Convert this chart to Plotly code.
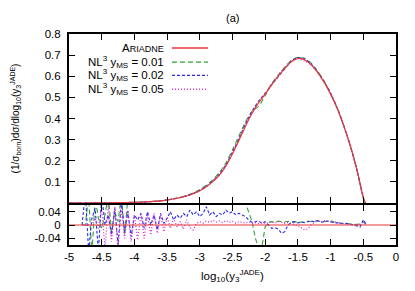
import numpy as np
import plotly.graph_objects as go
from plotly.subplots import make_subplots

# ---------------- data ----------------
# top panel: distribution vs log10(y3^JADE)
x_main = [-5.0, -4.9, -4.8, -4.7, -4.6, -4.5, -4.4, -4.3, -4.2, -4.1,
          -4.0, -3.9, -3.8, -3.7, -3.6, -3.5, -3.4, -3.3, -3.2, -3.1,
          -3.0, -2.9, -2.8, -2.7, -2.6, -2.5, -2.4, -2.3, -2.2, -2.1,
          -2.0, -1.9, -1.8, -1.7, -1.6, -1.5, -1.4, -1.3, -1.2, -1.1,
          -1.0, -0.9, -0.8, -0.7, -0.6, -0.5, -0.47]
ariadne = [0, 0, 0, 0, 0.0005, 0.0007, 0.001, 0.0013, 0.0017, 0.0023,
           0.003, 0.004, 0.0055, 0.0075, 0.010, 0.014, 0.019, 0.025, 0.033, 0.044,
           0.058, 0.077, 0.101, 0.132, 0.175, 0.233, 0.297, 0.365, 0.425, 0.475,
           0.515, 0.560, 0.600, 0.637, 0.668, 0.684, 0.678, 0.655, 0.618, 0.572,
           0.515, 0.448, 0.365, 0.272, 0.160, 0.025, 0.0]
nl3_001 = [0, 0, 0, 0, 0.0005, 0.0007, 0.001, 0.0014, 0.0018, 0.0025,
           0.0033, 0.0044, 0.006, 0.0082, 0.011, 0.0153, 0.0207, 0.0273, 0.036, 0.048,
           0.063, 0.084, 0.110, 0.144, 0.190, 0.252, 0.318, 0.385, 0.435, 0.458,
           0.508, 0.565, 0.606, 0.643, 0.675, 0.690, 0.685, 0.663, 0.625, 0.578,
           0.520, 0.452, 0.368, 0.273, 0.160, 0.026, 0.0]
nl3_002 = [0, 0, 0, 0, 0.0005, 0.0007, 0.001, 0.0013, 0.0018, 0.0024,
           0.0031, 0.0042, 0.0057, 0.0078, 0.0104, 0.0145, 0.0197, 0.026, 0.034, 0.0455,
           0.060, 0.080, 0.105, 0.137, 0.181, 0.242, 0.306, 0.376, 0.435, 0.482,
           0.520, 0.560, 0.598, 0.635, 0.672, 0.688, 0.682, 0.660, 0.622, 0.576,
           0.519, 0.451, 0.367, 0.272, 0.160, 0.025, 0.0]
nl3_005 = [0, 0, 0, 0, 0.0005, 0.0007, 0.001, 0.0013, 0.0017, 0.0023,
           0.003, 0.004, 0.0056, 0.0076, 0.0101, 0.0142, 0.0192, 0.0253, 0.0333, 0.0445,
           0.0586, 0.0777, 0.102, 0.133, 0.177, 0.236, 0.300, 0.369, 0.429, 0.479,
           0.518, 0.564, 0.605, 0.641, 0.671, 0.683, 0.673, 0.654, 0.620, 0.574,
           0.518, 0.450, 0.367, 0.272, 0.160, 0.025, 0.0]

# lower panel: relative deviation from Ariadne, x from -4.80 in steps of 0.05
ratio_x_start = -4.80
ratio_x_step = 0.05
ratio_001 = [0.00, 0.00, 0.09, -0.09, 0.08, 0.02, -0.01, 0.03, 0.09, -0.02,
             0.04, 0.01, 0.09, -0.03, 0.08, 0.07, 0.09, 0.09, 0.09, 0.09,
             0.09, 0.09, 0.09, 0.09, 0.09, 0.09, 0.09, 0.09, 0.09, 0.09,
             0.09, 0.09, 0.09, 0.09, 0.09, 0.09, 0.09, 0.09, 0.09, 0.09,
             0.09, 0.09, 0.09, 0.09, 0.09, 0.09, 0.09, 0.09, 0.09, 0.09,
             0.065, 0.04, 0.01, -0.04, -0.07, -0.065, -0.005, 0.008, 0.01, 0.008,
             0.012, 0.01, 0.009, 0.011, 0.008, 0.01, 0.007, 0.009, 0.008, 0.012,
             0.01, 0.013, 0.012, 0.009, 0.01, 0.011, 0.013, 0.01, 0.008, 0.006,
             0.004, 0.005, 0.003, 0.001, 0.002, 0.003, 0.01, 0.0]
ratio_002 = [0.0, 0.1, -0.08, 0.02, 0.05, -0.08, 0.09, 0.0, 0.03, -0.03,
             0.05, -0.06, 0.07, -0.02, 0.04, -0.035, 0.03, 0.015, 0.035, -0.01,
             0.04, 0.0, 0.03, -0.015, 0.035, 0.005, 0.02, 0.04, 0.015, 0.03,
             0.02, 0.035, 0.025, 0.045, 0.03, 0.04, 0.025, 0.035, 0.055, 0.03,
             0.04, 0.025, 0.035, 0.03, 0.045, 0.035, 0.04, 0.03, 0.035, 0.03,
             0.025, 0.015, 0.008, 0.01, 0.012, 0.005, 0.01, 0.0, -0.01, -0.008,
             -0.012, -0.025, -0.02, 0.0, 0.008, 0.01, 0.006, 0.009, 0.007, 0.01,
             0.012, 0.01, 0.013, 0.008, 0.01, 0.012, 0.01, 0.006, 0.007, 0.004,
             0.006, 0.003, 0.002, 0.0, -0.002, -0.006, 0.016, 0.0]
ratio_005 = [0.0, 0.0, 0.0, 0.0, 0.02, -0.01, 0.05, -0.07, 0.06, -0.05,
             0.055, -0.07, 0.05, -0.04, 0.045, -0.05, 0.03, -0.045, 0.035, -0.04,
             0.03, -0.03, 0.035, -0.025, 0.03, -0.02, 0.025, -0.01, 0.02, -0.005,
             0.01, -0.012, 0.015, -0.008, -0.015, 0.005, 0.01, 0.006, 0.012, 0.008,
             0.014, 0.009, 0.012, 0.007, 0.013, 0.008, 0.011, 0.006, 0.01, 0.008,
             0.006, 0.009, 0.005, 0.007, 0.004, 0.006, 0.005, 0.007, 0.009, 0.006,
             0.01, 0.008, 0.005, 0.007, 0.004, 0.002, -0.002, -0.008, -0.014, -0.012,
             0.0, 0.008, 0.012, 0.01, 0.013, 0.011, 0.01, 0.008, 0.007, 0.005,
             0.004, 0.002, 0.003, 0.001, 0.0, 0.002, 0.008, 0.0]
ratio_ref_x = [-5.0, 0.0]
ratio_ref = [0.0, 0.0]

x_ticks = [-5, -4.5, -4, -3.5, -3, -2.5, -2, -1.5, -1, -0.5, 0]
x_ticklabels = ["-5", "-4.5", "-4", "-3.5", "-3", "-2.5", "-2", "-1.5", "-1", "-0.5", "0"]
y_ticks = [0.1, 0.2, 0.3, 0.4, 0.5, 0.6, 0.7, 0.8]
y_ticklabels = ["0.1", "0.2", "0.3", "0.4", "0.5", "0.6", "0.7", "0.8"]
r_ticks = [-0.04, 0, 0.04]
r_ticklabels = ["-0.04", "0", "0.04"]

x_title = "log<sub>10</sub>(y<sub>3</sub><sup>JADE</sup>)"
y_title = "(1/σ<sub>born</sub>)dσ/dlog<sub>10</sub>(y<sub>3</sub><sup>JADE</sup>)"
panel_title = "(a)"
legend_labels = ["A<span style='font-size:9px'>RIADNE</span>",
                 "NL<sup>3</sup> y<sub>MS</sub> = 0.01",
                 "NL<sup>3</sup> y<sub>MS</sub> = 0.02",
                 "NL<sup>3</sup> y<sub>MS</sub> = 0.05"]

# ---------------- styles ----------------
RED = "#e53935"
GREEN = "#33a333"
BLUE = "#2a2ae8"
MAGENTA = "#d42ed4"
FONT = "Liberation Sans, Arial, sans-serif"

ratio_x = [round(ratio_x_start + ratio_x_step * i, 3) for i in range(len(ratio_001))]

fig = make_subplots(rows=2, cols=1, shared_xaxes=True, vertical_spacing=0,
                    row_heights=[0.802, 0.198])

styles = [(RED, "solid", 1.2), (GREEN, "5px,3px", 1.1), (BLUE, "3px,2px", 1.1), (MAGENTA, "1px,2px", 1.3)]
top_series = [ariadne, nl3_001, nl3_002, nl3_005]
for ys, (c, d, w) in zip(top_series[1:], styles[1:]):
    fig.add_trace(go.Scatter(x=x_main, y=ys, mode="lines", line=dict(color=c, dash=d, width=w, shape="spline", smoothing=0.6),
                             showlegend=False, hoverinfo="skip"), row=1, col=1)
fig.add_trace(go.Scatter(x=x_main, y=ariadne, mode="lines", line=dict(color=RED, width=1.2, shape="spline", smoothing=0.6),
                         showlegend=False, hoverinfo="skip"), row=1, col=1)

for ys, (c, d, w) in zip([ratio_001, ratio_002, ratio_005], styles[1:]):
    fig.add_trace(go.Scatter(x=ratio_x, y=ys, mode="lines", line=dict(color=c, dash=d, width=w),
                             showlegend=False, hoverinfo="skip"), row=2, col=1)
fig.add_trace(go.Scatter(x=ratio_ref_x, y=ratio_ref, mode="lines", line=dict(color=RED, width=1.2),
                         showlegend=False, hoverinfo="skip"), row=2, col=1)

axis_common = dict(showline=True, linecolor="black", linewidth=2, mirror="ticks",
                   ticks="inside", ticklen=6, tickwidth=1.3, tickcolor="black",
                   showgrid=False, zeroline=False, automargin=False,
                   tickfont=dict(family=FONT, size=11.5, color="black"))

fig.update_xaxes(range=[-5, 0], tickvals=x_ticks, ticktext=x_ticklabels, **axis_common)
fig.update_xaxes(showticklabels=False, row=1, col=1)
fig.update_yaxes(range=[0, 0.8], tickvals=y_ticks, ticktext=y_ticklabels, domain=[42 / 211, 1.0],
                 ticklabelstandoff=4, row=1, col=1, **axis_common)
fig.update_yaxes(range=[-0.06, 0.06], tickvals=r_ticks, ticktext=r_ticklabels, domain=[0.0, 40 / 211],
                 ticklabelstandoff=4, row=2, col=1, **axis_common)

# axis titles as annotations (fixed placement)
fig.add_annotation(xref="paper", yref="paper", x=-0.165, y=0.6, text=y_title, textangle=-90,
                   showarrow=False, xanchor="center", yanchor="middle",
                   font=dict(family=FONT, size=10, color="black"))
fig.add_annotation(xref="paper", yref="paper", x=0.5, y=-0.148, text=x_title,
                   showarrow=False, xanchor="center", yanchor="middle",
                   font=dict(family=FONT, size=11.5, color="black"))

# hand-made legend (text left, line sample right, as in the reference)
leg_y = [0.934, 0.867, 0.804, 0.738]
for lab, yy, (c, d, w) in zip(legend_labels, leg_y, styles):
    fig.add_annotation(xref="paper", yref="paper", x=0.297, y=yy, text=lab, showarrow=False,
                       xanchor="right", yanchor="middle", font=dict(family=FONT, size=11.5, color="black"))
    fig.add_shape(type="line", xref="paper", yref="paper", x0=0.315, x1=0.425, y0=yy, y1=yy,
                  line=dict(color=c, dash=d, width=w + 0.2))

fig.add_annotation(xref="paper", yref="paper", x=0.5, y=1.0, yshift=16, text=panel_title, showarrow=False,
                   xanchor="center", yanchor="middle", font=dict(family=FONT, size=11, color="black"))

fig.update_layout(width=415, height=291, margin=dict(l=69, r=19, t=34, b=46, autoexpand=False),
                  paper_bgcolor="white", plot_bgcolor="white", showlegend=False)

fig.write_html("out.html", config={"displayModeBar": False},
               post_script="document.body.style.margin='0';")
